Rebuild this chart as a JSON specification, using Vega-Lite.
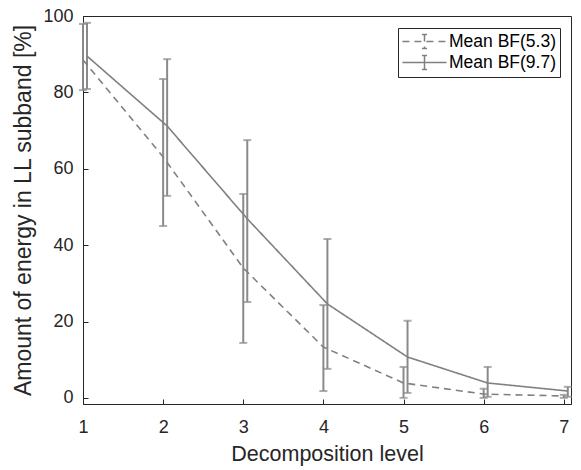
{
  "$schema": "https://vega.github.io/schema/vega-lite/v6.json",
  "width": 488,
  "height": 388,
  "autosize": {"type": "none"},
  "padding": {"left": 83, "top": 16, "right": 10, "bottom": 66},
  "background": "white",
  "config": {
    "font": "Liberation Sans",
    "view": {"stroke": "#262626", "strokeWidth": 1},
    "axis": {
      "grid": false,
      "domainColor": "#262626",
      "tickColor": "#262626",
      "labelColor": "#262626",
      "titleColor": "#262626",
      "labelFontSize": 18,
      "titleFontSize": 21.5,
      "titleFontWeight": "normal",
      "tickSize": -5,
      "domainWidth": 1,
      "tickWidth": 1
    },
    "legend": {
      "orient": "none",
      "legendX": 315,
      "legendY": 12,
      "strokeColor": "#262626",
      "fillColor": "white",
      "padding": 4,
      "title": null,
      "symbolType": "M-2.6,0H2.6M0,-0.82V0.82M-0.3,-0.82H0.3M-0.3,0.82H0.3",
      "symbolSize": 289,
      "symbolStrokeWidth": 1.5,
      "symbolStrokeColor": "#808080",
      "symbolFillColor": "transparent",
      "symbolOffset": 13,
      "labelFontSize": 17.5,
      "labelColor": "#000000",
      "labelOffset": 15,
      "rowPadding": 0
    }
  },
  "data": {
    "values": [
      {"series": "Mean BF(5.3)", "x": 1, "mean": 88.5, "lo": 80.6, "hi": 97.9},
      {"series": "Mean BF(5.3)", "x": 2, "mean": 63.1, "lo": 45.0, "hi": 83.5},
      {"series": "Mean BF(5.3)", "x": 3, "mean": 34.0, "lo": 14.4, "hi": 53.4},
      {"series": "Mean BF(5.3)", "x": 4, "mean": 13.3, "lo": 1.8, "hi": 24.3},
      {"series": "Mean BF(5.3)", "x": 5, "mean": 3.9, "lo": 0.0, "hi": 8.1},
      {"series": "Mean BF(5.3)", "x": 6, "mean": 1.0, "lo": 0.0, "hi": 2.4},
      {"series": "Mean BF(5.3)", "x": 7, "mean": 0.5, "lo": 0.0, "hi": 0.8},
      {"series": "Mean BF(9.7)", "x": 1.05, "mean": 89.5, "lo": 80.9, "hi": 98.2},
      {"series": "Mean BF(9.7)", "x": 2.05, "mean": 71.2, "lo": 52.9, "hi": 88.7},
      {"series": "Mean BF(9.7)", "x": 3.05, "mean": 46.9, "lo": 25.1, "hi": 67.5},
      {"series": "Mean BF(9.7)", "x": 4.05, "mean": 24.6, "lo": 7.6, "hi": 41.6},
      {"series": "Mean BF(9.7)", "x": 5.05, "mean": 10.7, "lo": 1.3, "hi": 20.2},
      {"series": "Mean BF(9.7)", "x": 6.05, "mean": 3.9, "lo": 0.3, "hi": 8.1},
      {"series": "Mean BF(9.7)", "x": 7.05, "mean": 1.8, "lo": 0.3, "hi": 2.9}
    ]
  },
  "encoding": {
    "x": {
      "field": "x", "type": "quantitative",
      "scale": {"domain": [1, 7.09], "nice": false, "zero": false},
      "axis": {"values": [1,2,3,4,5,6,7], "title": "Decomposition level", "labelPadding": 19, "titlePadding": 7, "labelFlush": false}
    },
    "y": {
      "field": "mean", "type": "quantitative",
      "scale": {"domain": [-1.6, 100], "nice": false, "zero": false},
      "axis": {"values": [0,20,40,60,80,100], "title": "Amount of energy in LL subband [%]", "titleFontSize": 23, "labelPadding": 15, "titlePadding": 7, "labelFlush": false}
    }
  },
  "layer": [
    {
      "mark": {"type": "rule", "color": "#8a8a8a", "strokeWidth": 2},
      "encoding": {"y": {"field": "lo", "type": "quantitative"}, "y2": {"field": "hi"}}
    },
    {
      "mark": {"type": "tick", "orient": "horizontal", "color": "#8a8a8a", "size": 8, "thickness": 2},
      "encoding": {"y": {"field": "lo", "type": "quantitative"}}
    },
    {
      "mark": {"type": "tick", "orient": "horizontal", "color": "#8a8a8a", "size": 8, "thickness": 2},
      "encoding": {"y": {"field": "hi", "type": "quantitative"}}
    },
    {
      "mark": {"type": "line", "color": "#808080", "strokeWidth": 1.6},
      "encoding": {
        "strokeDash": {
          "field": "series", "type": "nominal",
          "scale": {"domain": ["Mean BF(5.3)", "Mean BF(9.7)"], "range": [[7, 5], [1, 0]]}
        }
      }
    }
  ]
}
